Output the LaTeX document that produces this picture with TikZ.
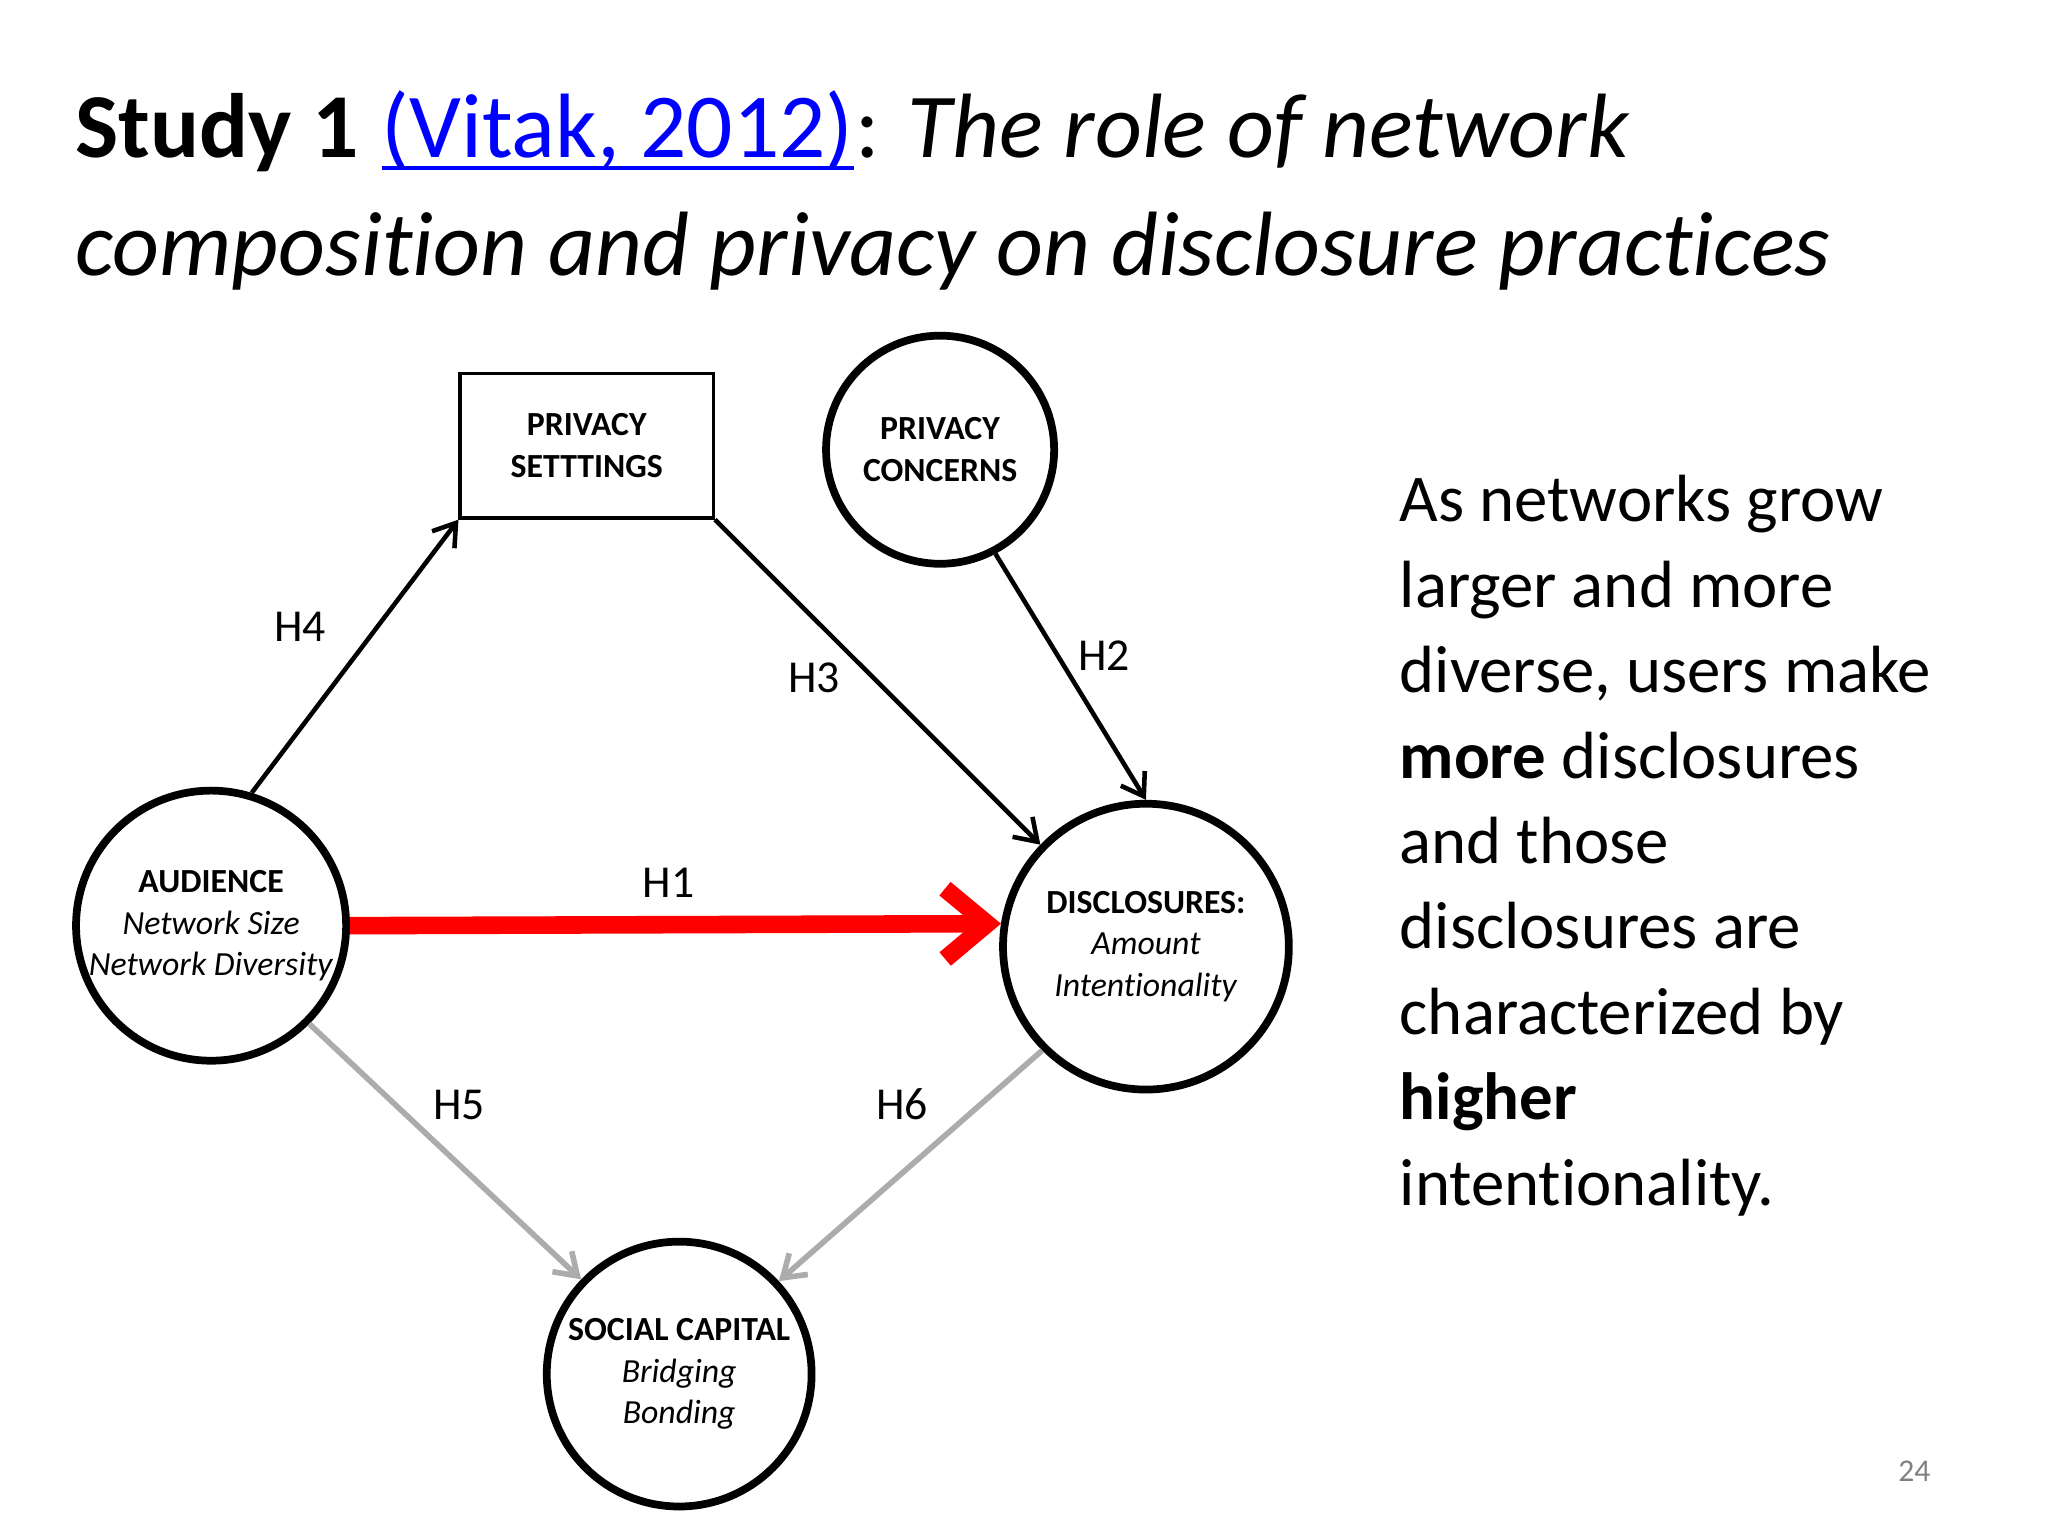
\documentclass[tikz,border=0pt]{standalone}
\usepackage{fontspec}
\setmainfont{Carlito}[Ligatures={NoCommon}]
\usetikzlibrary{arrows.meta}
\newcommand{\myul}[1]{\tikz[baseline=(u.base)]{\node[inner sep=0pt,outer sep=0pt] (u) {#1};\draw[line width=1.3pt] ([yshift=-3pt]u.base west) -- ([yshift=-3pt]u.base east);}}
\begin{document}
\begin{tikzpicture}[x=0.01311cm,y=-0.01311cm,
  circ/.style={circle,draw,line width=2.2pt,inner sep=0pt,align=center,font=\fontsize{9.6}{11.8}\selectfont},
  lab/.style={font=\fontsize{13}{15}\selectfont},
  blk/.style={draw,line width=1.3pt,-{Straight Barb[length=6pt,width=8pt]}},
  gry/.style={draw=gray!65,line width=1.6pt,-{Straight Barb[length=6pt,width=8pt]}}]
\useasboundingbox (0,0) rectangle (1562,1172);
\node[anchor=base west,inner sep=0pt,font=\fontsize{26}{30}\selectfont] (t1) at (57,120) {\textbf{Study 1} {\color{blue}\myul{(Vitak, 2012)}}: \textit{The role of network}};
\node[anchor=base west,inner sep=0pt,font=\fontsize{26}{30}\selectfont\itshape] (t2) at (57,210) {composition and privacy on disclosure practices};
\node[draw,line width=1pt,minimum width=193*0.01311cm,minimum height=110*0.01311cm,align=center,font=\fontsize{9.6}{11.8}\selectfont\bfseries] (ps) at (447.5,340) {PRIVACY\\SETTTINGS};
\node[circ,minimum size=174*0.01311cm] (pc) at (717,343) {\textbf{PRIVACY}\\\textbf{CONCERNS}};
\node[circ,minimum size=206*0.01311cm] (aud) at (161,706) {\textbf{AUDIENCE}\\\textit{Network Size}\\\textit{Network Diversity}};
\node[circ,minimum size=218*0.01311cm] (dis) at (874,722) {\textbf{DISCLOSURES:}\\\textit{Amount}\\\textit{Intentionality}};
\node[circ,minimum size=202*0.01311cm] (sc) at (518,1048) {\textbf{SOCIAL CAPITAL}\\\textit{Bridging}\\\textit{Bonding}};
\draw[blk] (aud.73) -- (ps.south west);
\draw[blk] (ps.south east) -- (dis.136);
\draw[blk] (pc.-62) -- (dis.90);
\draw[draw=red,line width=5pt,-{Straight Barb[length=12pt,width=20pt]}] (aud.east) -- (dis.171);
\draw[gry] (aud.-45) -- (sc.136);
\draw[gry] (dis.-135) -- (sc.43);
\node[lab] (h4) at (229,478) {H4};
\node[lab] (h3) at (621,517) {H3};
\node[lab] (h2) at (842,500) {H2};
\node[lab] (h1) at (510,673) {H1};
\node[lab] (h5) at (350,843) {H5};
\node[lab] (h6) at (688,842) {H6};
\node[anchor=north west,inner sep=0pt,align=left,font=\fontsize{19}{24.3}\selectfont] (txt) at (1067,362) {As networks grow\\larger and more\\diverse, users make\\\textbf{more} disclosures\\and those\\disclosures are\\characterized by\\\textbf{higher}\\intentionality.};
\node[text=gray,font=\fontsize{9}{11}\selectfont] (pg) at (1460,1122) {24};
\end{tikzpicture}
\end{document}
